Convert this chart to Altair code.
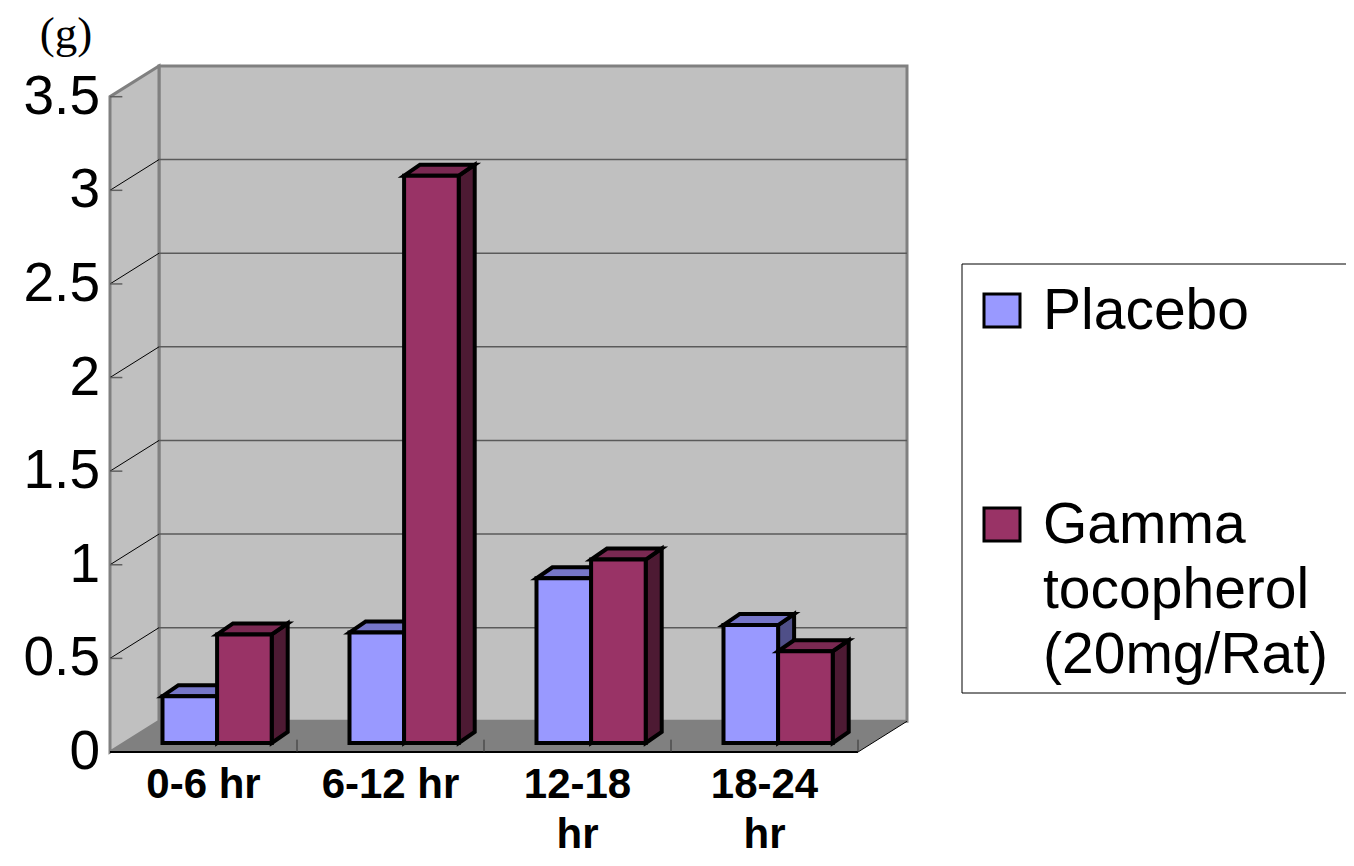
import altair as alt
import pandas as pd

# ---------------- data ----------------
categories = ["0-6 hr", "6-12 hr", "12-18\nhr", "18-24\nhr"]
series_names = ["Placebo", "Gamma\ntocopherol\n(20mg/Rat)"]
placebo = [0.25, 0.59, 0.88, 0.63]
gamma = [0.58, 3.03, 0.98, 0.49]
y_ticks = [0, 0.5, 1, 1.5, 2, 2.5, 3, 3.5]
y_tick_labels = ["0", "0.5", "1", "1.5", "2", "2.5", "3", "3.5"]
unit_label = "(g)"

front_colors = ["#9999FF", "#993366"]
top_colors = ["#7676C8", "#7A2952"]
side_colors = ["#4F4F88", "#4D1A33"]

# ---------------- geometry (in data units) ----------------
YMAX = 3.5
NCAT = len(categories)
DX, DY = 0.262, 0.164          # depth of the 3D box
BX, BY = 0.0727, 0.048         # front face of bars relative to front edge
BDX, BDY = 0.0856, 0.0588      # depth of bars
BW = 0.292                     # width of one bar
W, H = 797, 686

xs = alt.Scale(domain=[0, NCAT + DX], nice=False, zero=False)
ys = alt.Scale(domain=[0, YMAX + DY], nice=False, zero=False)


def X(f):
    return alt.X(f, scale=xs, axis=None, stack=None)


def Y(f):
    return alt.Y(f, scale=ys, axis=None, stack=None)


one = pd.DataFrame({"a": [0]})

# walls and floor
back_wall = alt.Chart(pd.DataFrame({"xa": [DX], "xb": [NCAT + DX], "ya": [DY], "yb": [YMAX + DY]})).mark_rect(
    fill="#C0C0C0", stroke="#808080", strokeWidth=3
).encode(x=X("xa:Q"), x2="xb:Q", y=Y("ya:Q"), y2="yb:Q")

left_wall = alt.Chart(pd.DataFrame({"x": [0, DX], "ya": [0, DY], "yb": [YMAX, YMAX + DY]})).mark_area(
    orient="vertical", fill="#C0C0C0", stroke="#808080", strokeWidth=3
).encode(x=X("x:Q"), y=Y("ya:Q"), y2="yb:Q")

floor = alt.Chart(pd.DataFrame({"y": [0, DY], "xa": [0, DX], "xb": [NCAT, NCAT + DX]})).mark_area(
    orient="horizontal", fill="#808080"
).encode(y=Y("y:Q"), x=X("xa:Q"), x2="xb:Q")

grid_vals = [v for v in y_ticks if 0 < v < YMAX]
back_grid = alt.Chart(pd.DataFrame({"xa": [DX] * len(grid_vals), "xb": [NCAT + DX] * len(grid_vals),
                                    "y": [v + DY for v in grid_vals]})).mark_rule(
    color="#5A5A5A", strokeWidth=1.5
).encode(x=X("xa:Q"), x2="xb:Q", y=Y("y:Q"))

side_grid = alt.Chart(pd.DataFrame({"xa": [0] * len(grid_vals), "xb": [DX] * len(grid_vals),
                                    "ya": grid_vals, "yb": [v + DY for v in grid_vals]})).mark_rule(
    color="black", strokeWidth=1
).encode(x=X("xa:Q"), x2="xb:Q", y=Y("ya:Q"), y2="yb:Q")

tick_vals = [v for v in y_ticks if v > 0]
y_tick_marks = alt.Chart(pd.DataFrame({"xa": [0] * len(tick_vals), "xb": [0.066] * len(tick_vals),
                                       "y": tick_vals})).mark_rule(
    color="#606060", strokeWidth=1.5
).encode(x=X("xa:Q"), x2="xb:Q", y=Y("y:Q"))

front_edge = alt.Chart(pd.DataFrame({"xa": [0], "xb": [NCAT], "y": [0]})).mark_rule(
    color="black", strokeWidth=2
).encode(x=X("xa:Q"), x2="xb:Q", y=Y("y:Q"))

right_edge = alt.Chart(pd.DataFrame({"xa": [NCAT], "xb": [NCAT + DX], "ya": [0], "yb": [DY]})).mark_rule(
    color="black", strokeWidth=1
).encode(x=X("xa:Q"), x2="xb:Q", y=Y("ya:Q"), y2="yb:Q")

cat_ticks = alt.Chart(pd.DataFrame({"x": list(range(1, NCAT + 1)), "ya": [0] * NCAT,
                                    "yb": [0.066] * NCAT})).mark_rule(
    color="#333333", strokeWidth=1
).encode(x=X("x:Q"), y=Y("ya:Q"), y2="yb:Q")

# ---------------- bars ----------------
bar_layers = []
for s, vals in enumerate([placebo, gamma]):
    fr, tp, sd = [], [], []
    for i, v in enumerate(vals):
        x0 = i + 0.5 + BX - BW + s * BW
        x1 = x0 + BW
        bid = f"{s}-{i}"
        fr.append({"id": bid, "xa": x0, "xb": x1, "ya": BY, "yb": BY + v})
        tp.append({"id": bid, "y": BY + v, "xa": x0, "xb": x1})
        tp.append({"id": bid, "y": BY + v + BDY, "xa": x0 + BDX, "xb": x1 + BDX})
        sd.append({"id": bid, "x": x1, "ya": BY, "yb": BY + v})
        sd.append({"id": bid, "x": x1 + BDX, "ya": BY + BDY, "yb": BY + v + BDY})
    side = alt.Chart(pd.DataFrame(sd)).mark_area(
        orient="vertical", fill=side_colors[s], stroke="black", strokeWidth=4, strokeJoin="miter"
    ).encode(x=X("x:Q"), y=Y("ya:Q"), y2="yb:Q", detail="id:N")
    top = alt.Chart(pd.DataFrame(tp)).mark_area(
        orient="horizontal", fill=top_colors[s], stroke="black", strokeWidth=4, strokeJoin="miter"
    ).encode(y=Y("y:Q"), x=X("xa:Q"), x2="xb:Q", detail="id:N")
    front = alt.Chart(pd.DataFrame(fr)).mark_rect(
        fill=front_colors[s], stroke="black", strokeWidth=4
    ).encode(x=X("xa:Q"), x2="xb:Q", y=Y("ya:Q"), y2="yb:Q")
    bar_layers += [side, top, front]

# ---------------- axis labels ----------------
y_labels = alt.Chart(pd.DataFrame({"v": y_ticks, "label": y_tick_labels})).mark_text(
    align="right", baseline="middle", fontSize=55, font="Liberation Sans", color="black"
).encode(x=alt.value(-10), y=Y("v:Q"), text="label:N")

x_labels = alt.Chart(pd.DataFrame({"x": [i + 0.5 for i in range(NCAT)], "label": categories})).mark_text(
    align="center", baseline="alphabetic", fontSize=42, fontWeight="bold", font="Liberation Sans",
    lineBreak="\n", lineHeight=50, color="black"
).encode(x=X("x:Q"), y=alt.value(732), text="label:N")

unit = alt.Chart(pd.DataFrame({"t": [unit_label]})).mark_text(
    align="center", baseline="alphabetic", fontSize=45, font="Liberation Serif", color="black"
).encode(x=alt.value(-44), y=alt.value(-18), text="t:N")

# ---------------- legend ----------------
legend_box = alt.Chart(one).mark_rect(fill="white", stroke="black", strokeWidth=1).encode(
    x=alt.value(852), x2=alt.value(1300), y=alt.value(198), y2=alt.value(627)
)
legend_layers = [legend_box]
legend_sq_y = [228, 442]
legend_txt_y = [263, 477]
for s, name in enumerate(series_names):
    sq = alt.Chart(one).mark_rect(fill=front_colors[s], stroke="black", strokeWidth=3).encode(
        x=alt.value(874), x2=alt.value(910), y=alt.value(legend_sq_y[s]), y2=alt.value(legend_sq_y[s] + 33)
    )
    tx = alt.Chart(pd.DataFrame({"t": [name]})).mark_text(
        align="left", baseline="alphabetic", fontSize=57, font="Liberation Sans", lineBreak="\n",
        lineHeight=65, color="black"
    ).encode(x=alt.value(933), y=alt.value(legend_txt_y[s]), text="t:N")
    legend_layers += [sq, tx]

chart = alt.layer(
    back_wall, left_wall, floor, back_grid, side_grid, y_tick_marks, front_edge, right_edge, cat_ticks,
    *bar_layers, y_labels, x_labels, unit, *legend_layers
).properties(
    width=W, height=H,
    padding={"left": 102, "top": 58, "right": 439, "bottom": 106},
    autosize=alt.AutoSizeParams(type="none"),
).configure_view(stroke=None)

chart.save("out.html", embed_options={"renderer": "svg", "actions": False})
